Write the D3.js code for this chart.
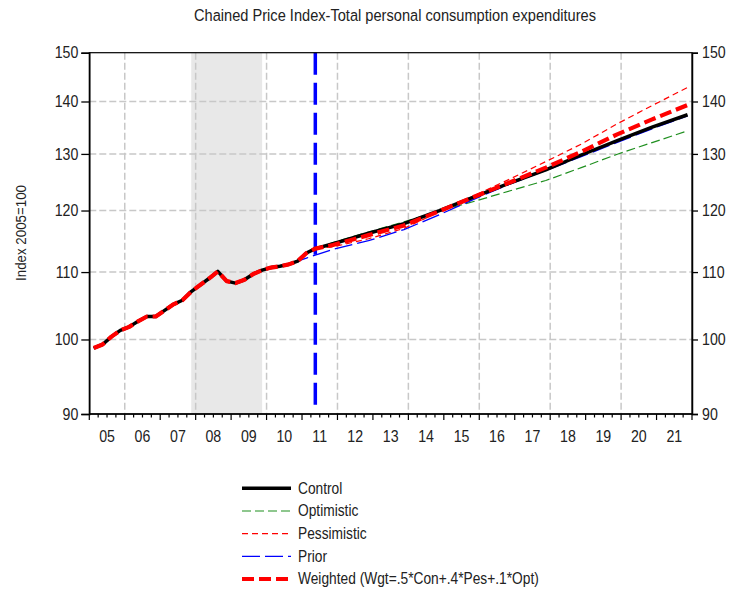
<!DOCTYPE html>
<html>
<head>
<meta charset="utf-8">
<script src="https://cdn.jsdelivr.net/npm/d3@7"></script>
<style>
  html, body { margin: 0; padding: 0; background: #fff; }
  svg { display: block; }
</style>
</head>
<body>
<svg id="chart" width="731" height="594"></svg>
<script>
// ---------------- DATA ----------------
const titleText = "Chained Price Index-Total personal consumption expenditures";
const yLabel = "Index 2005=100";

const yTicks = [90, 100, 110, 120, 130, 140, 150];
const yearLabels = ["05","06","07","08","09","10","11","12","13","14","15","16","17","18","19","20","21"];
const gridYears = [2006, 2008, 2010, 2012, 2014, 2016, 2018, 2020];

const recession = ["2007Q4", "2009Q4"];
const forecastStart = "2011Q2";

const histQuarters = ["2005Q1","2005Q2","2005Q3","2005Q4","2006Q1","2006Q2","2006Q3","2006Q4",
  "2007Q1","2007Q2","2007Q3","2007Q4","2008Q1","2008Q2","2008Q3","2008Q4",
  "2009Q1","2009Q2","2009Q3","2009Q4","2010Q1","2010Q2","2010Q3","2010Q4","2011Q1","2011Q2"];
const histValues = [98.8, 99.3, 100.4, 101.3, 101.8, 102.6, 103.3, 103.3,
  104.2, 105.1, 105.7, 107.0, 108.0, 109.0, 110.1, 108.6,
  108.3, 108.8, 109.7, 110.3, 110.7, 110.9, 111.2, 111.7, 113.0, 113.7];

const fcstQuarters = ["2011Q2","2011Q4","2012Q4","2013Q4","2014Q4","2015Q4","2016Q4","2017Q4","2018Q4","2019Q4","2020Q4","2021Q4"];
const controlValues     = [113.7, 114.5, 116.2, 117.8, 120.0, 122.4, 124.8, 127.1, 129.8, 132.4, 135.0, 137.4];
const optimisticValues  = [113.7, 114.7, 116.4, 118.1, 119.9, 121.6, 123.4, 125.2, 127.5, 129.9, 132.1, 134.3];
const pessimisticValues = [113.7, 114.0, 115.3, 117.0, 119.8, 122.6, 125.5, 128.6, 131.8, 135.6, 139.2, 142.8];
const weightedValues    = [113.7, 114.3, 115.9, 117.5, 119.9, 122.4, 124.9, 127.5, 130.4, 133.6, 136.5, 139.3];

const priorQuarters = ["2010Q4","2011Q1","2011Q4","2012Q4","2013Q4","2014Q4","2015Q4","2016Q4","2017Q4","2018Q4","2019Q4","2020Q4","2021Q4"];
const priorValues   = [111.7, 112.2, 113.6, 115.0, 116.8, 119.3, 122.0, 124.6, 127.0, 129.5, 132.1, 134.7, 137.2];

const legendNames = ["Control", "Optimistic", "Pessimistic", "Prior", "Weighted (Wgt=.5*Con+.4*Pes+.1*Opt)"];

// ---------------- HELPERS ----------------
function qIndex(s) { // quarter index, 0 = 2005Q1
  const y = +s.slice(0, 4), q = +s.slice(5);
  return (y - 2005) * 4 + (q - 1);
}
function series(fq, fv, cutoff) {
  const pts = [];
  histQuarters.forEach((q, i) => { if (qIndex(q) <= qIndex(cutoff)) pts.push({ q: qIndex(q) + 0.5, v: histValues[i] }); });
  fq.forEach((q, i) => { if (qIndex(q) > qIndex(cutoff)) pts.push({ q: qIndex(q) + 0.5, v: fv[i] }); });
  return pts;
}

// font detection (narrow face)
const NARROW = "'Liberation Sans Narrow', 'Arial Narrow'";
let S = 1, FAM = "'Liberation Sans Narrow', 'Arial Narrow', sans-serif";
(function () {
  const c = document.createElement("canvas").getContext("2d");
  c.font = "16px " + NARROW + ", monospace";
  const w1 = c.measureText("Index 2005=100 abc").width;
  c.font = "16px monospace";
  const w2 = c.measureText("Index 2005=100 abc").width;
  if (Math.abs(w1 - w2) < 0.01) { S = 0.86; FAM = "'Liberation Sans', Arial, sans-serif"; }
})();
function condense(sel) {
  sel.each(function () {
    const t = d3.select(this);
    const x = +t.attr("x") || 0;
    t.attr("x", x / S).attr("transform", `scale(${S},1)`).style("font-family", FAM);
  });
}

// ---------------- CHART ----------------
const svg = d3.select("#chart");
const L = 89.3, R = 692, T = 52.7, B = 414;
const x = d3.scaleLinear().domain([0, 68]).range([L, R]);
const y = d3.scaleLog().domain([90, 150]).range([B, T]);

// recession shading
svg.append("rect")
  .attr("x", x(qIndex(recession[0]) + 0.5))
  .attr("y", T)
  .attr("width", x(qIndex(recession[1]) + 0.5) - x(qIndex(recession[0]) + 0.5))
  .attr("height", B - T)
  .attr("fill", "#e8e8e8");

// grid
const grid = svg.append("g").attr("stroke", "#c8c8c8").attr("stroke-width", 1.5).attr("stroke-dasharray", "7,3");
grid.selectAll(".gx").data(gridYears).enter().append("line")
  .attr("x1", d => x((d - 2005) * 4)).attr("x2", d => x((d - 2005) * 4))
  .attr("y1", T).attr("y2", B);
grid.selectAll(".gy").data(yTicks.filter(d => d > 90 && d < 150)).enter().append("line")
  .attr("x1", L).attr("x2", R).attr("y1", d => y(d)).attr("y2", d => y(d));

// forecast divider
svg.append("line")
  .attr("x1", x(qIndex(forecastStart) + 0.5)).attr("x2", x(qIndex(forecastStart) + 0.5))
  .attr("y1", T).attr("y2", B - 2)
  .attr("stroke", "#0000ff").attr("stroke-width", 3.5).attr("stroke-dasharray", "22,8");

// lines
const lineGen = d3.line().x(d => x(d.q)).y(d => y(d.v));
const styles = {
  Control:     { color: "#000000", width: 3.5, dash: null },
  Optimistic:  { color: "#1f8f1f", width: 1.2, dash: "9,4" },
  Pessimistic: { color: "#ff0000", width: 1.2, dash: "6,4" },
  Prior:       { color: "#0000ff", width: 1.3, dash: "18,5" },
  Weighted:    { color: "#ff0000", width: 4.2, dash: "12,5" }
};
const drawOrder = [
  ["Optimistic", series(fcstQuarters, optimisticValues, forecastStart)],
  ["Pessimistic", series(fcstQuarters, pessimisticValues, forecastStart)],
  ["Prior", series(priorQuarters, priorValues, "2010Q4")],
  ["Control", series(fcstQuarters, controlValues, forecastStart)],
  ["Weighted", series(fcstQuarters, weightedValues, forecastStart)]
];
drawOrder.forEach(([name, pts]) => {
  const s = styles[name];
  svg.append("path").datum(pts)
    .attr("d", lineGen)
    .attr("fill", "none")
    .attr("stroke", s.color)
    .attr("stroke-width", s.width)
    .attr("stroke-dasharray", s.dash)
    .attr("stroke-linejoin", "round");
});

// frame
svg.append("rect").attr("x", L).attr("y", T).attr("width", R - L).attr("height", B - T)
  .attr("fill", "none").attr("stroke", "#000").attr("stroke-width", 1.2);

// y axes
const yAxL = svg.append("g").attr("transform", `translate(${L},0)`)
  .call(d3.axisLeft(y).tickValues(yTicks).tickFormat(d3.format("d")).tickSize(8).tickPadding(3));
const yAxR = svg.append("g").attr("transform", `translate(${R},0)`)
  .call(d3.axisRight(y).tickValues(yTicks).tickFormat(d3.format("d")).tickSize(6).tickPadding(4));
[yAxL, yAxR].forEach(g => {
  g.select(".domain").attr("stroke-width", 1.5);
  g.selectAll("line").attr("stroke-width", 1.3);
  g.selectAll("text").style("font-size", "16.5px").attr("fill", "#222");
});
condense(yAxL.selectAll("text"));
condense(yAxR.selectAll("text"));

// x axis: quarterly minor ticks, yearly major ticks
const xAx = svg.append("g");
xAx.append("line").attr("x1", L).attr("x2", R).attr("y1", B).attr("y2", B).attr("stroke", "#000").attr("stroke-width", 1.5);
xAx.selectAll(".tq").data(d3.range(0, 69)).enter().append("line")
  .attr("x1", d => x(d)).attr("x2", d => x(d))
  .attr("y1", B).attr("y2", d => B + (d % 4 === 0 ? 6 : 3.5))
  .attr("stroke", "#000").attr("stroke-width", 1.2);
xAx.selectAll(".lbl").data(yearLabels).enter().append("text")
  .attr("x", (d, i) => x(i * 4 + 2))
  .attr("y", B + 28)
  .attr("text-anchor", "middle")
  .style("font-size", "16.5px").attr("fill", "#222")
  .text(d => d);
condense(xAx.selectAll("text"));

// title
const title = svg.append("text").attr("x", 395).attr("y", 21).attr("text-anchor", "middle")
  .style("font-size", "17px").attr("fill", "#222").text(titleText);
condense(title);

// y label
const yl = svg.append("g").attr("transform", "translate(26,233) rotate(-90)");
const ylt = yl.append("text").attr("x", 0).attr("y", 0).attr("text-anchor", "middle")
  .style("font-size", "15.5px").attr("fill", "#222").text(yLabel);
condense(ylt);

// legend
const legKeys = ["Control", "Optimistic", "Pessimistic", "Prior", "Weighted"];
const legY = d3.scalePoint().domain(legKeys).range([488.3, 579]);
const leg = svg.append("g");
legKeys.forEach((k, i) => {
  const s = styles[k];
  leg.append("line").attr("x1", 242).attr("x2", 291).attr("y1", legY(k)).attr("y2", legY(k))
    .attr("stroke", s.color).attr("stroke-width", s.width).attr("stroke-dasharray", s.dash);
  const t = leg.append("text").attr("x", 298).attr("y", legY(k) + 5.5)
    .style("font-size", "16px").attr("fill", "#222").text(legendNames[i]);
  condense(t);
});
</script>
</body>
</html>
